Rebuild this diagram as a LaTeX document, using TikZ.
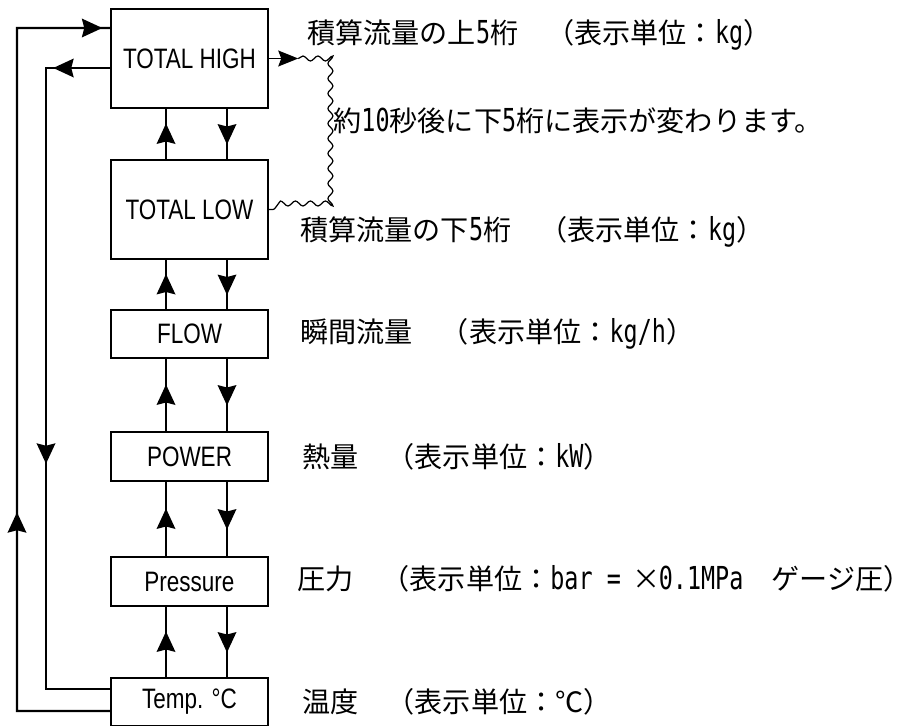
\documentclass[tikz,border=0pt]{standalone}
\usepackage{fontspec}
\setmainfont{Noto Sans CJK JP}
\newfontfamily\boxfont[FakeStretch=0.8]{Liberation Sans}
\newfontfamily\hwfont[FakeStretch=0.74]{DejaVu Sans Mono}
\newcommand{\hw}[1]{{\fontsize{18}{18}\hwfont #1}}
\usetikzlibrary{arrows.meta,decorations.markings,decorations.pathmorphing}
\def\arrowhd{\fill (0.21,0) -- (-0.2,0.19) -- (-0.15,0) -- (-0.2,-0.19) -- cycle;}
\tikzset{
  link/.style={line width=1.4pt},
  dispbox/.style={draw, line width=1.4pt, minimum width=3.14cm, inner sep=0pt, font=\fontsize{16}{19}\boxfont},
  headat/.style={postaction={decorate,decoration={markings,mark=at position #1 with {\arrowhd}}}},
  wavy/.style={line width=0.7pt, decorate, decoration={snake, amplitude=0.05cm, segment length=0.3cm}},
  jptext/.style={anchor=west, inner sep=0pt, font=\fontsize{16}{18}\selectfont}
}

\begin{document}
\begin{tikzpicture}
			%%%%% START %%%%%
			\useasboundingbox (0,0) rectangle (18.26,-14.52);
			
			\node[dispbox, minimum height=1.98cm] (high) at (3.79,-1.17) {TOTAL HIGH};
			\node[dispbox, minimum height=1.98cm] (low) at (3.79,-4.19) {TOTAL LOW};
			\node[dispbox, minimum height=0.96cm] (flow) at (3.79,-6.68) {FLOW};
			\node[dispbox, minimum height=0.98cm] (power) at (3.79,-9.13) {POWER};
			\node[dispbox, minimum height=0.98cm] (pres) at (3.79,-11.63) {Pressure};
			\node[dispbox, minimum height=0.96cm] (temp) at (3.79,-14.04) {Temp. °C};
			
			\draw[link, headat=0.5] ([xshift=-0.47cm]low.north) -- ([xshift=-0.47cm]high.south);
			\draw[link, headat=0.5] ([xshift=0.75cm]high.south) -- ([xshift=0.75cm]low.north);
			\draw[link, headat=0.5] ([xshift=-0.47cm]flow.north) -- ([xshift=-0.47cm]low.south);
			\draw[link, headat=0.5] ([xshift=0.75cm]low.south) -- ([xshift=0.75cm]flow.north);
			\draw[link, headat=0.5] ([xshift=-0.47cm]power.north) -- ([xshift=-0.47cm]flow.south);
			\draw[link, headat=0.5] ([xshift=0.75cm]flow.south) -- ([xshift=0.75cm]power.north);
			\draw[link, headat=0.5] ([xshift=-0.47cm]pres.north) -- ([xshift=-0.47cm]power.south);
			\draw[link, headat=0.5] ([xshift=0.75cm]power.south) -- ([xshift=0.75cm]pres.north);
			\draw[link, headat=0.5] ([xshift=-0.47cm]temp.north) -- ([xshift=-0.47cm]pres.south);
			\draw[link, headat=0.5] ([xshift=0.75cm]pres.south) -- ([xshift=0.75cm]temp.north);
			
			% return lines on the left
			\draw[link, headat=5.62cm, headat=-0.36cm] ([yshift=-0.18cm]temp.west) -| (0.34,-0.56) -- ([yshift=0.61cm]high.west);
			\draw[link, headat=0.92cm, headat=8.98cm] ([yshift=-0.19cm]high.west) -| (0.92,-13.78) -- ([yshift=0.26cm]temp.west);
			
			% change-over between high and low digits
			\coordinate (wtop) at ([xshift=0.58cm]high.east);
			\coordinate (wedge) at (6.62,0);
			\draw[line width=0.7pt, -{Stealth[length=0.4cm,width=0.32cm,inset=0.06cm]}] (high.east) -- (wtop);
			\draw[wavy] (wtop) -- (wtop -| wedge) -- (low.east -| wedge) -- (low.east);
			
			\node[jptext] (hightxt) at (6.14,-0.70) {積算流量の上\hw{5}桁　（表示単位：\hw{kg}）};
			\node[jptext] (note) at (6.66,-2.42) {約\hw{10}秒後に下\hw{5}桁に表示が変わります。};
			\node[jptext] (lowtxt) at (6.0,-4.64) {積算流量の下\hw{5}桁　（表示単位：\hw{kg}）};
			\node[jptext] (flowtxt) at (6.0,-6.68) {瞬間流量　（表示単位：\hw{kg/h}）};
			\node[jptext] (powertxt) at (6.04,-9.13) {熱量　（表示単位：\hw{kW}）};
			\node[jptext] (prestxt) at (5.94,-11.58) {圧力　（表示単位：\hw{bar = }\makebox[0.85em]{×}\hw{0.1MPa}　ゲージ圧）};
			\node[jptext] (temptxt) at (6.04,-14.04) {温度　（表示単位：℃）};
			
			%%%%% END %%%%%
\end{tikzpicture}
\end{document}
